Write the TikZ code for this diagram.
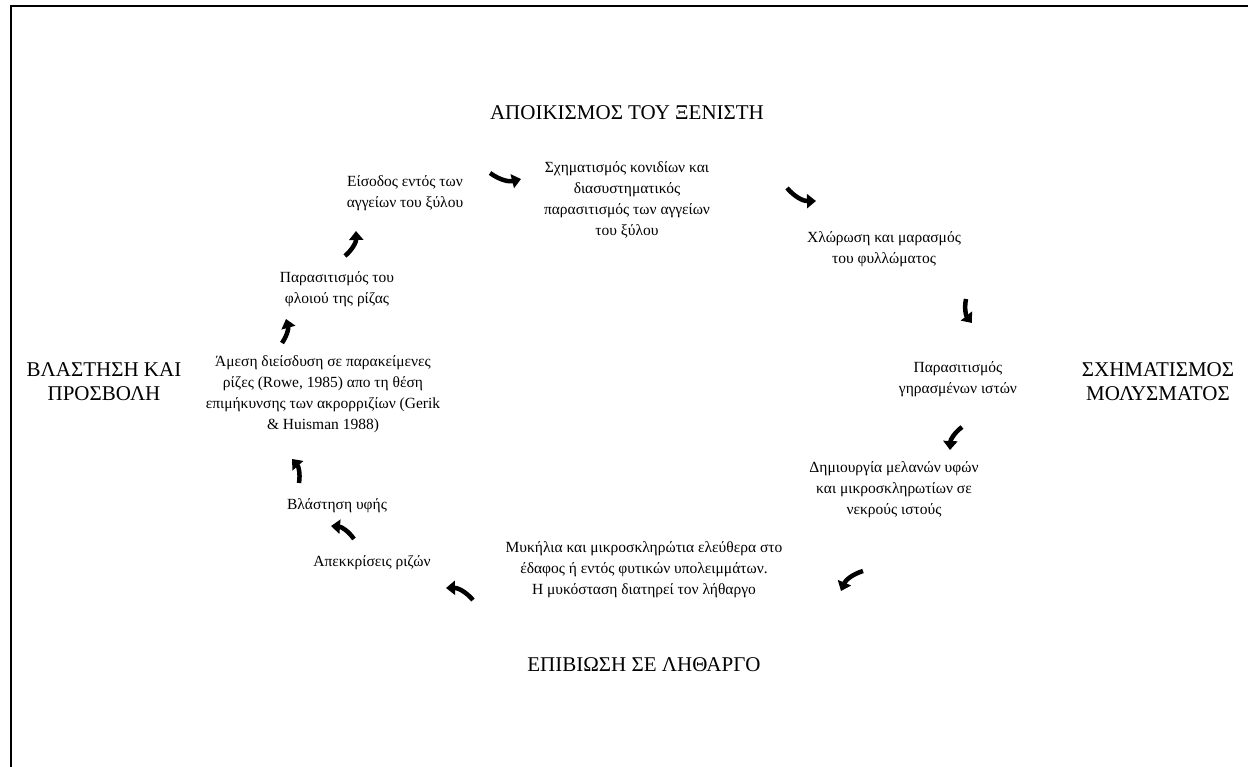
\documentclass[tikz,border=0pt]{standalone}
\usepackage{fontspec}
\setmainfont{Liberation Serif}
\usetikzlibrary{arrows.meta}
\tikzset{
  stage/.style={align=center, inner sep=0pt, font=\fontsize{15.5}{21}\selectfont},
  phase/.style={align=center, inner sep=0pt, font=\fontsize{21}{24}\selectfont},
  cyc/.style={line width=4.5pt, -{Triangle[width=14pt,length=9pt]}},
}
\begin{document}
\begin{tikzpicture}[x=1pt, y=-1pt]
  \useasboundingbox (0,0) rectangle (1248,767);
  \draw[line width=2pt] (11,767) -- (11,6) -- (1248,6);
  % PHASES
  \node[phase] (colon) at (627,113) {ΑΠΟΙΚΙΣΜΟΣ ΤΟΥ ΞΕΝΙΣΤΗ};
  \node[phase] (inoc) at (1158,382) {ΣΧΗΜΑΤΙΣΜΟΣ\\ΜΟΛΥΣΜΑΤΟΣ};
  \node[phase] (dorm) at (644,665) {ΕΠΙΒΙΩΣΗ ΣΕ ΛΗΘΑΡΓΟ};
  \node[phase] (germ) at (104,382) {ΒΛΑΣΤΗΣΗ ΚΑΙ\\ΠΡΟΣΒΟΛΗ};
  % STAGES
  \node[stage] (entry) at (405,193) {Είσοδος εντός των\\αγγείων του ξύλου};
  \node[stage] (conid) at (627,200) {Σχηματισμός κονιδίων και\\διασυστηματικός\\παρασιτισμός των αγγείων\\του ξύλου};
  \node[stage] (wilt) at (884,249) {Χλώρωση και μαρασμός\\του φυλλώματος};
  \node[stage] (senes) at (958,379) {Παρασιτισμός\\γηρασμένων ιστών};
  \node[stage] (micro) at (894,490) {Δημιουργία μελανών υφών\\και μικροσκληρωτίων σε\\νεκρούς ιστούς};
  \node[stage] (soil) at (644,570) {Μυκήλια και μικροσκληρώτια ελεύθερα στο\\έδαφος ή εντός φυτικών υπολειμμάτων.\\Η μυκόσταση διατηρεί τον λήθαργο};
  \node[stage] (exud) at (372,563) {Απεκκρίσεις ριζών};
  \node[stage] (hypha) at (337,506) {Βλάστηση υφής};
  \node[stage] (pen) at (323,394) {Άμεση διείσδυση σε παρακείμενες\\ρίζες (Rowe, 1985) απο τη θέση\\επιμήκυνσης των ακρορριζίων (Gerik\\\& Huisman 1988)};
  \node[stage] (cortex) at (337,289) {Παρασιτισμός του\\φλοιού της ρίζας};
  % ARROWS
  \coordinate (a1) at (490,173); \coordinate (b1) at (521,179);
  \coordinate (a2) at (787,188); \coordinate (b2) at (816,201);
  \coordinate (a3) at (966,299); \coordinate (b3) at (972,323);
  \coordinate (a4) at (962,427); \coordinate (b4) at (950,450);
  \coordinate (a5) at (863,571); \coordinate (b5) at (841,591);
  \coordinate (a6) at (473,600); \coordinate (b6) at (446,588);
  \coordinate (a7) at (354,539); \coordinate (b7) at (331,526);
  \coordinate (a8) at (299,483); \coordinate (b8) at (292,459);
  \coordinate (a9) at (282,343); \coordinate (b9) at (286,319);
  \coordinate (a10) at (345,256); \coordinate (b10) at (356,231);
  \draw[cyc] (a1) to[bend right=25] (b1);
  \draw[cyc] (a2) to[bend right=25] (b2);
  \draw[cyc] (a3) to[bend right=25] (b3);
  \draw[cyc] (a4) to[bend right=25] (b4);
  \draw[cyc] (a5) to[bend right=25] (b5);
  \draw[cyc] (a6) to[bend right=25] (b6);
  \draw[cyc] (a7) to[bend right=25] (b7);
  \draw[cyc] (a8) to[bend right=25] (b8);
  \draw[cyc] (a9) to[bend right=25] (b9);
  \draw[cyc] (a10) to[bend right=25] (b10);
\end{tikzpicture}
\end{document}
